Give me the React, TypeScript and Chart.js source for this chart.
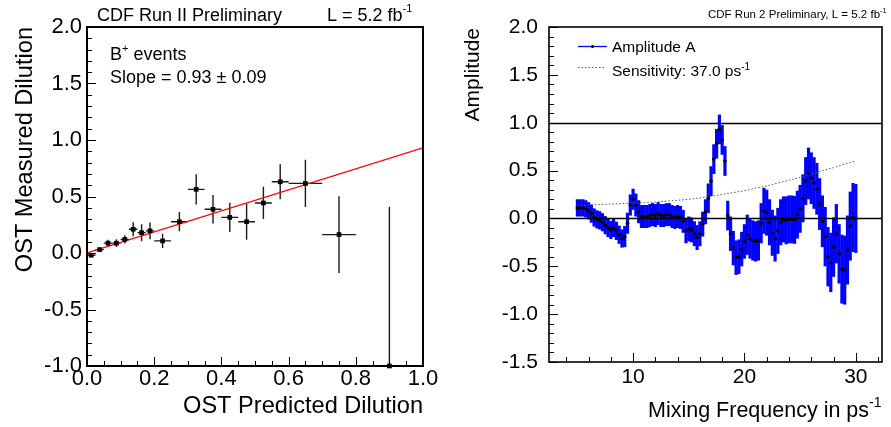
import React, { useEffect, useRef } from "react";
import { Chart, registerables } from "chart.js";

Chart.register(...registerables);

const FONT = "'Liberation Sans', Arial, Helvetica, sans-serif";

// ---------- Left panel: OST dilution calibration ----------
const predDilution = [0.0125, 0.0375, 0.0625, 0.0875, 0.1125, 0.1375, 0.1625, 0.1875, 0.225, 0.275, 0.325, 0.375, 0.425, 0.475, 0.525, 0.575, 0.65, 0.75, 0.9];
const predDilutionErr = [0.0125, 0.0125, 0.0125, 0.0125, 0.0125, 0.0125, 0.0125, 0.0125, 0.025, 0.025, 0.025, 0.025, 0.025, 0.025, 0.025, 0.025, 0.05, 0.05, 0.1];
const measDilution = [-0.02, 0.03, 0.087, 0.087, 0.12, 0.21, 0.18, 0.196, 0.107, 0.277, 0.563, 0.387, 0.315, 0.277, 0.443, 0.63, 0.616, 0.163, -1.0];
const measDilutionErr = [0.018, 0.018, 0.03, 0.035, 0.036, 0.0625, 0.075, 0.075, 0.0625, 0.085, 0.134, 0.126, 0.13, 0.16, 0.143, 0.155, 0.21, 0.34, 1.41];
const fitX = [0, 1];
const fitY = [0, 0.93];
const leftXTicks = [0, 0.2, 0.4, 0.6, 0.8, 1.0];
const leftYTicks = [-1, -0.5, 0, 0.5, 1, 1.5, 2];

// ---------- Right panel: amplitude scan ----------
const freq = [
  5, 5.25, 5.5, 5.75, 6, 6.25, 6.5, 6.75, 7, 7.25, 7.5, 7.75, 8, 8.25, 8.5, 8.75, 9, 9.25, 9.5, 9.75,
  10, 10.25, 10.5, 10.75, 11, 11.25, 11.5, 11.75, 12, 12.25, 12.5, 12.75, 13, 13.25, 13.5, 13.75, 14, 14.25, 14.5, 14.75,
  15, 15.25, 15.5, 15.75, 16, 16.25, 16.5, 16.75, 17, 17.25, 17.5, 17.75, 18, 18.25, 18.5, 18.75, 19, 19.25, 19.5, 19.75,
  20, 20.25, 20.5, 20.75, 21, 21.25, 21.5, 21.75, 22, 22.25, 22.5, 22.75, 23, 23.25, 23.5, 23.75, 24, 24.25, 24.5, 24.75,
  25, 25.25, 25.5, 25.75, 26, 26.25, 26.5, 26.75, 27, 27.25, 27.5, 27.75, 28, 28.25, 28.5, 28.75, 29, 29.25, 29.5, 29.75,
  30,
];
const amplitude = [
  0.11, 0.11, 0.11, 0.10, 0.08, 0.05, 0.01, -0.01, -0.02, -0.04, -0.07, -0.10, -0.12, -0.10, -0.13, -0.17, -0.21, -0.19, -0.05, 0.14,
  0.20, 0.14, 0.07, 0.02, 0.02, 0.02, 0.03, 0.04, 0.03, 0.05, 0.03, 0.03, 0.04, 0.04, 0.02, 0.01, 0.02, 0.01, -0.03, -0.13,
  -0.11, -0.12, -0.16, -0.20, -0.16, -0.06, 0.07, 0.21, 0.39, 0.62, 0.78, 0.93, 0.82, 0.60, 0.03, -0.16, -0.31, -0.41, -0.40, -0.32,
  -0.24, -0.17, -0.21, -0.23, -0.24, -0.23, -0.05, 0.08, 0.06, -0.04, -0.15, -0.21, -0.13, -0.04, -0.01, -0.02, -0.01, -0.01, -0.015, 0.04,
  0.10, 0.21, 0.39, 0.47, 0.42, 0.37, 0.31, 0.15, -0.03, -0.19, -0.40, -0.46, -0.30, -0.16, -0.37, -0.53, -0.54, -0.33, -0.08, 0.01,
  0.00,
];
const amplitudeErr = [
  0.09, 0.09, 0.09, 0.09, 0.09, 0.095, 0.095, 0.095, 0.095, 0.095, 0.095, 0.095, 0.095, 0.095, 0.095, 0.095, 0.095, 0.11, 0.11, 0.11,
  0.11, 0.12, 0.12, 0.12, 0.12, 0.12, 0.12, 0.12, 0.12, 0.12, 0.12, 0.12, 0.12, 0.12, 0.12, 0.12, 0.12, 0.12, 0.12, 0.13,
  0.13, 0.13, 0.13, 0.13, 0.13, 0.13, 0.13, 0.155, 0.155, 0.155, 0.155, 0.155, 0.155, 0.155, 0.155, 0.18, 0.18, 0.18, 0.18, 0.18,
  0.18, 0.21, 0.21, 0.21, 0.21, 0.21, 0.21, 0.24, 0.24, 0.24, 0.24, 0.24, 0.24, 0.24, 0.24, 0.25, 0.25, 0.25, 0.25, 0.25,
  0.25, 0.25, 0.25, 0.27, 0.27, 0.27, 0.27, 0.27, 0.27, 0.31, 0.31, 0.31, 0.31, 0.31, 0.31, 0.36, 0.36, 0.36, 0.36, 0.36,
  0.36,
];
const sensFreq = [5, 6, 7, 8, 9, 10, 11, 12, 13, 14, 15, 16, 17, 18, 19, 20, 21, 22, 23, 24, 25, 26, 27, 28, 29, 30];
const sensitivity = [0.13, 0.14, 0.145, 0.15, 0.155, 0.16, 0.165, 0.17, 0.18, 0.19, 0.20, 0.215, 0.23, 0.25, 0.27, 0.29, 0.315, 0.34, 0.37, 0.40, 0.43, 0.46, 0.50, 0.53, 0.57, 0.60];
const refLevels = [0, 1];
const rightXTicks = [10, 20, 30];
const rightYTicks = [-1.5, -1, -0.5, 0, 0.5, 1, 1.5, 2];

// ---------- helpers ----------
type Seg = { t: string; size: number; dy?: number };
type TextItem = { x: number; y: number; segs: Seg[]; align?: "left" | "right"; rotate?: boolean; color?: string };

function drawRich(ctx: CanvasRenderingContext2D, item: TextItem) {
  ctx.save();
  ctx.fillStyle = item.color || "#000";
  ctx.textBaseline = "alphabetic";
  ctx.textAlign = "left";
  let total = 0;
  const widths = item.segs.map((s) => {
    ctx.font = `${s.size}px ${FONT}`;
    const w = ctx.measureText(s.t).width;
    total += w;
    return w;
  });
  ctx.translate(item.x, item.y);
  if (item.rotate) ctx.rotate(-Math.PI / 2);
  let cx = item.align === "right" ? -total : 0;
  item.segs.forEach((s, i) => {
    ctx.font = `${s.size}px ${FONT}`;
    ctx.fillText(s.t, cx, s.dy || 0);
    cx += widths[i];
  });
  ctx.restore();
}

function textPlugin(items: TextItem[], extra?: (chart: any) => void) {
  return {
    id: "texts",
    afterDraw(chart: any) {
      const ctx = chart.ctx as CanvasRenderingContext2D;
      items.forEach((it) => drawRich(ctx, it));
      if (extra) extra(chart);
    },
  };
}

const errorBarPlugin = {
  id: "errorBars",
  beforeDatasetsDraw(chart: any) {
    const { ctx, chartArea: a } = chart;
    const xs = chart.scales.x;
    const ys = chart.scales.y;
    ctx.save();
    ctx.beginPath();
    ctx.rect(a.left, a.top, a.right - a.left, a.bottom - a.top);
    ctx.clip();
    chart.data.datasets.forEach((ds: any) => {
      if (!ds.yErr && !ds.xErr) return;
      ctx.strokeStyle = ds.errColor;
      ctx.lineWidth = ds.errWidth;
      ds.data.forEach((p: any, i: number) => {
        const px = xs.getPixelForValue(p.x);
        const py = ys.getPixelForValue(p.y);
        ctx.beginPath();
        if (ds.yErr) {
          ctx.moveTo(px, ys.getPixelForValue(p.y - ds.yErr[i]));
          ctx.lineTo(px, ys.getPixelForValue(p.y + ds.yErr[i]));
        }
        if (ds.xErr) {
          ctx.moveTo(xs.getPixelForValue(p.x - ds.xErr[i]), py);
          ctx.lineTo(xs.getPixelForValue(p.x + ds.xErr[i]), py);
        }
        ctx.stroke();
      });
    });
    ctx.restore();
  },
};

function refLinePlugin(levels: number[]) {
  return {
    id: "refLines",
    beforeDatasetsDraw(chart: any) {
      const { ctx, chartArea: a } = chart;
      const ys = chart.scales.y;
      ctx.save();
      ctx.strokeStyle = "#000";
      ctx.lineWidth = 1.3;
      levels.forEach((v) => {
        const y = Math.round(ys.getPixelForValue(v)) + 0.5;
        ctx.beginPath();
        ctx.moveTo(a.left, y);
        ctx.lineTo(a.right, y);
        ctx.stroke();
      });
      ctx.restore();
    },
  };
}

type AxisOpts = { xMajor: number; xMinor: number; yMajor: number; yMinor: number; majorLen: number; minorLen: number; frameWidth: number };
function rootAxesPlugin(o: AxisOpts) {
  return {
    id: "rootAxes",
    afterDraw(chart: any) {
      const { ctx, chartArea: a } = chart;
      const xs = chart.scales.x;
      const ys = chart.scales.y;
      ctx.save();
      ctx.strokeStyle = "#000";
      ctx.lineWidth = 1;
      const ticks = (scale: any, step: number, len: number, horiz: boolean) => {
        const s = Math.ceil(scale.min / step - 1e-6);
        const e = Math.floor(scale.max / step + 1e-6);
        for (let k = s; k <= e; k++) {
          const p = Math.round(scale.getPixelForValue(k * step)) + 0.5;
          ctx.beginPath();
          if (horiz) {
            ctx.moveTo(p, a.bottom);
            ctx.lineTo(p, a.bottom - len);
          } else {
            ctx.moveTo(a.left, p);
            ctx.lineTo(a.left + len, p);
          }
          ctx.stroke();
        }
      };
      ticks(xs, o.xMinor, o.minorLen, true);
      ticks(xs, o.xMajor, o.majorLen, true);
      ticks(ys, o.yMinor, o.minorLen, false);
      ticks(ys, o.yMajor, o.majorLen, false);
      ctx.lineWidth = o.frameWidth;
      ctx.strokeRect(a.left, a.top, a.right - a.left, a.bottom - a.top);
      ctx.restore();
    },
  };
}

function fixed1(v: any) {
  return Number(v).toFixed(1);
}

function setTicks(values: number[]) {
  return (s: any) => {
    s.ticks = values.map((value) => ({ value }));
  };
}

// ---------- chart configs ----------
function leftConfig(): any {
  return {
    type: "scatter",
    data: {
      datasets: [
        {
          label: "B+ events",
          data: predDilution.map((x, i) => ({ x, y: measDilution[i] })),
          pointStyle: "rect",
          pointRadius: 3.3,
          backgroundColor: "#000",
          borderColor: "#000",
          borderWidth: 0,
          xErr: predDilutionErr,
          yErr: measDilutionErr,
          errColor: "#1a1a1a",
          errWidth: 1.4,
          clip: false,
        },
        {
          type: "line",
          label: "fit",
          data: fitX.map((x, i) => ({ x, y: fitY[i] })),
          borderColor: "#ff0000",
          borderWidth: 1.3,
          pointRadius: 0,
          fill: false,
        },
      ],
    },
    options: {
      animation: false,
      responsive: false,
      devicePixelRatio: 1,
      events: [],
      layout: { padding: { top: 27, right: 22, left: 0, bottom: 0 } },
      plugins: { legend: { display: false }, tooltip: { enabled: false } },
      scales: {
        x: {
          type: "linear",
          min: 0,
          max: 1,
          grid: { display: false, drawTicks: false },
          border: { display: false },
          afterBuildTicks: setTicks(leftXTicks),
          ticks: { padding: 0, color: "#000", font: { size: 22, family: FONT }, callback: fixed1, autoSkip: false, maxRotation: 0 },
          afterFit: (s: any) => { s.height = 61; },
        },
        y: {
          type: "linear",
          min: -1,
          max: 2,
          grid: { display: false, drawTicks: false },
          border: { display: false },
          afterBuildTicks: setTicks(leftYTicks),
          ticks: { padding: 5, color: "#000", font: { size: 22, family: FONT }, callback: fixed1, autoSkip: false },
          afterFit: (s: any) => { s.width = 87; },
        },
      },
    },
    plugins: [
      errorBarPlugin,
      rootAxesPlugin({ xMajor: 0.2, xMinor: 0.05, yMajor: 0.5, yMinor: 0.1, majorLen: 9, minorLen: 5, frameWidth: 2 }),
      textPlugin([
        { x: 97, y: 21, segs: [{ t: "CDF Run II Preliminary", size: 18 }] },
        { x: 327, y: 21, segs: [{ t: "L = 5.2 fb", size: 18 }, { t: "-1", size: 11, dy: -9 }] },
        { x: 110, y: 60, segs: [{ t: "B", size: 18 }, { t: "+", size: 11, dy: -8 }, { t: " events", size: 18 }] },
        { x: 110, y: 83, segs: [{ t: "Slope = 0.93 ± 0.09", size: 18 }] },
        { x: 423, y: 413, align: "right", segs: [{ t: "OST Predicted Dilution", size: 23.6 }] },
        { x: 32, y: 27, align: "right", rotate: true, segs: [{ t: "OST Measured Dilution", size: 23.6 }] },
      ]),
    ],
  };
}

function rightConfig(): any {
  return {
    type: "scatter",
    data: {
      datasets: [
        {
          label: "Amplitude A",
          data: freq.map((x, i) => ({ x, y: amplitude[i] })),
          pointRadius: 1.8,
          backgroundColor: "#000",
          borderColor: "#000",
          borderWidth: 0,
          yErr: amplitudeErr,
          errColor: "#0000ff",
          errWidth: 3.2,
        },
        {
          type: "line",
          label: "Sensitivity: 37.0 ps-1",
          data: sensFreq.map((x, i) => ({ x, y: sensitivity[i] })),
          borderColor: "#555555",
          borderWidth: 1,
          borderDash: [1.5, 2],
          pointRadius: 0,
          fill: false,
        },
      ],
    },
    options: {
      animation: false,
      responsive: false,
      devicePixelRatio: 1,
      events: [],
      layout: { padding: { top: 27, right: 9, left: 0, bottom: 0 } },
      plugins: { legend: { display: false }, tooltip: { enabled: false } },
      scales: {
        x: {
          type: "linear",
          min: 2.45,
          max: 32.35,
          grid: { display: false, drawTicks: false },
          border: { display: false },
          afterBuildTicks: setTicks(rightXTicks),
          ticks: { padding: 3, color: "#000", font: { size: 21, family: FONT }, callback: (v: any) => String(v), autoSkip: false, maxRotation: 0 },
          afterFit: (s: any) => { s.height = 65; },
        },
        y: {
          type: "linear",
          min: -1.5,
          max: 2,
          grid: { display: false, drawTicks: false },
          border: { display: false },
          afterBuildTicks: setTicks(rightYTicks),
          ticks: { padding: 11, color: "#000", font: { size: 21, family: FONT }, callback: fixed1, autoSkip: false },
          afterFit: (s: any) => { s.width = 104; },
        },
      },
    },
    plugins: [
      errorBarPlugin,
      refLinePlugin(refLevels),
      rootAxesPlugin({ xMajor: 10, xMinor: 2, yMajor: 0.5, yMinor: 0.1, majorLen: 9, minorLen: 5, frameWidth: 1.6 }),
      textPlugin(
        [
          { x: 263, y: 18, segs: [{ t: "CDF Run 2 Preliminary, L = 5.2 fb", size: 11.5 }, { t: "-1", size: 7.5, dy: -5 }] },
          { x: 167, y: 51.5, segs: [{ t: "Amplitude A", size: 15.5 }] },
          { x: 167, y: 76, segs: [{ t: "Sensitivity: 37.0 ps", size: 15.5 }, { t: "-1", size: 10, dy: -6 }] },
          { x: 203, y: 417, segs: [{ t: "Mixing Frequency in ps", size: 21.5 }, { t: "-1", size: 14, dy: -10 }] },
          { x: 33.5, y: 28, align: "right", rotate: true, segs: [{ t: "Amplitude", size: 21 }] },
        ],
        (chart: any) => {
          const ctx = chart.ctx as CanvasRenderingContext2D;
          ctx.save();
          ctx.strokeStyle = "#0000ff";
          ctx.lineWidth = 1.3;
          ctx.beginPath();
          ctx.moveTo(133, 46.5);
          ctx.lineTo(162, 46.5);
          ctx.stroke();
          ctx.fillStyle = "#000";
          ctx.beginPath();
          ctx.arc(147.5, 46.5, 1.6, 0, Math.PI * 2);
          ctx.fill();
          ctx.strokeStyle = "#555";
          ctx.lineWidth = 1;
          ctx.setLineDash([1.5, 2]);
          ctx.beginPath();
          ctx.moveTo(133, 67.5);
          ctx.lineTo(161, 67.5);
          ctx.stroke();
          ctx.restore();
        }
      ),
    ],
  };
}

function ChartCanvas({ make, left, width, height }: { make: () => any; left: number; width: number; height: number }) {
  const ref = useRef<HTMLCanvasElement | null>(null);
  useEffect(() => {
    const chart = new Chart(ref.current as HTMLCanvasElement, make());
    return () => chart.destroy();
  }, [make]);
  return (
    <canvas
      ref={ref}
      width={width}
      height={height}
      style={{ position: "absolute", left, top: 0, width, height, display: "block" }}
    />
  );
}

export default function App() {
  return (
    <div style={{ position: "absolute", left: 0, top: 0, width: 891, height: 427, background: "#fff", overflow: "hidden" }}>
      <ChartCanvas make={leftConfig} left={0} width={445} height={427} />
      <ChartCanvas make={rightConfig} left={445} width={446} height={427} />
    </div>
  );
}
